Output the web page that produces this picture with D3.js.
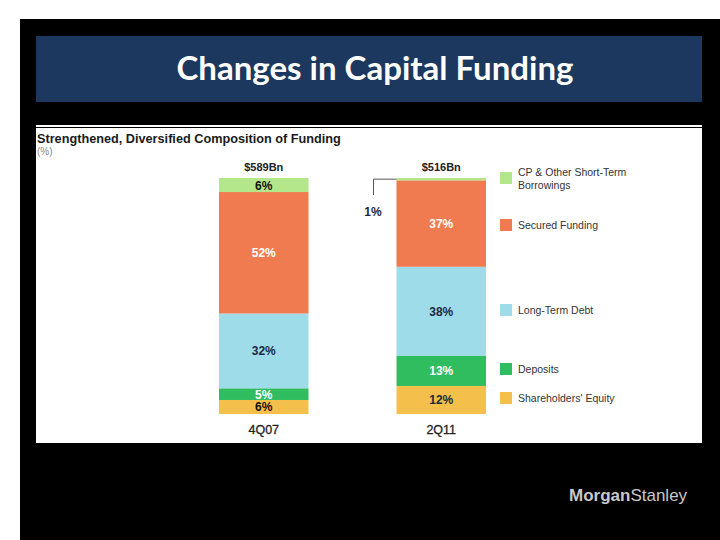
<!DOCTYPE html>
<html><head><meta charset="utf-8">
<script src="https://cdn.jsdelivr.net/npm/d3@7"></script>
<style>html,body{margin:0;padding:0;background:#fff;}svg{display:block;}</style>
</head><body>
<script>
const categories = ["4Q07", "2Q11"];
const totals = ["$589Bn", "$516Bn"];
const seriesNames = ["CP & Other Short-Term Borrowings", "Secured Funding", "Long-Term Debt", "Deposits", "Shareholders' Equity"];
const cpShortTerm = [6, 1];
const securedFunding = [52, 37];
const longTermDebt = [32, 38];
const deposits = [5, 13];
const shareholdersEquity = [6, 12];
const colors = ["#b4e68c", "#f07b51", "#9fdcea", "#2fbd60", "#f4c04b"];
const labelColors = [["#111", "#fff", "#1b2a3d", "#fff", "#111"], ["#111", "#fff", "#1b2a3d", "#fff", "#1b2a3d"]];

const W = 720, H = 540;
const svg = d3.select("body").append("svg").attr("width", W).attr("height", H);
svg.append("rect").attr("x", 0).attr("y", 0).attr("width", W).attr("height", H).attr("fill", "#fff");
svg.append("rect").attr("x", 20).attr("y", 19).attr("width", 700).attr("height", 521).attr("fill", "#000");
svg.append("rect").attr("x", 36).attr("y", 36).attr("width", 666).attr("height", 66).attr("fill", "#1c385e");
svg.append("text").attr("x", 375).attr("y", 80).attr("text-anchor", "middle")
  .attr("font-family", "Lato, 'Open Sans', sans-serif").attr("font-weight", "bold").attr("font-size", 33)
  .attr("fill", "#fff").text("Changes in Capital Funding");

// panel
svg.append("rect").attr("x", 36).attr("y", 125).attr("width", 666).attr("height", 318).attr("fill", "#fff");
svg.append("line").attr("x1", 36).attr("x2", 702).attr("y1", 127.5).attr("y2", 127.5).attr("stroke", "#000").attr("stroke-width", 1);

svg.append("text").attr("x", 37).attr("y", 143).attr("font-family", "Arial, 'Liberation Sans', sans-serif")
  .attr("font-weight", "bold").attr("font-size", 12.7).attr("fill", "#1a1a1a").text("Strengthened, Diversified Composition of Funding");
svg.append("text").attr("x", 37).attr("y", 155).attr("font-family", "Arial, 'Liberation Sans', sans-serif")
  .attr("font-size", 10).attr("fill", "#888").text("(%)");

const data = categories.map((c, i) => ({
  cat: c, total: totals[i],
  s0: cpShortTerm[i], s1: securedFunding[i], s2: longTermDebt[i], s3: deposits[i], s4: shareholdersEquity[i]
}));
const keys = ["s0", "s1", "s2", "s3", "s4"];
const stack = d3.stack().keys(keys.slice().reverse());
const series = stack(data);

const x = d3.scaleBand().domain(categories).range([219, 486]).paddingInner(0.99).paddingOuter(0);
const bw = 89.5;
const xPos = c => x(c) === 219 ? 219 : 486 - bw;
const maxTotal = d3.max(data, d => keys.reduce((a, k) => a + d[k], 0));
const y = d3.scaleLinear().domain([0, maxTotal]).range([414, 178]);

const g = svg.append("g");
series.forEach(s => {
  const ki = keys.indexOf(s.key);
  g.selectAll(null).data(s).enter().append("rect")
    .attr("x", d => xPos(d.data.cat)).attr("width", bw)
    .attr("y", d => y(d[1])).attr("height", d => y(d[0]) - y(d[1]))
    .attr("fill", colors[ki]);
  g.selectAll(null).data(s).enter().filter(d => (d[1] - d[0]) > 2).append("text")
    .attr("x", d => xPos(d.data.cat) + bw / 2)
    .attr("y", d => (y(d[0]) + y(d[1])) / 2 + 4.5)
    .attr("text-anchor", "middle")
    .attr("font-family", "Arial, 'Liberation Sans', sans-serif").attr("font-weight", "bold").attr("font-size", 12)
    .attr("fill", d => labelColors[categories.indexOf(d.data.cat)][ki])
    .text(d => (d[1] - d[0]) + "%");
});

// small segment callout (2Q11 CP)
const cpSeries = series.find(s => s.key === "s0");
const small = cpSeries[1];
const cy = (y(small[0]) + y(small[1])) / 2;
svg.append("path").attr("d", `M${xPos("2Q11")},${cy} H373.5 V195`).attr("fill", "none").attr("stroke", "#555").attr("stroke-width", 1);
svg.append("text").attr("x", 373).attr("y", 216).attr("text-anchor", "middle")
  .attr("font-family", "Arial, 'Liberation Sans', sans-serif").attr("font-weight", "bold").attr("font-size", 12)
  .attr("fill", "#1b2a3d").text((small[1] - small[0]) + "%");

// totals and category labels
data.forEach(d => {
  const top = y(keys.reduce((a, k) => a + d[k], 0));
  svg.append("text").attr("x", xPos(d.cat) + bw / 2).attr("y", top - 7.5).attr("text-anchor", "middle")
    .attr("font-family", "Arial, 'Liberation Sans', sans-serif").attr("font-weight", "bold").attr("font-size", 11)
    .attr("fill", "#222").text(d.total);
  svg.append("text").attr("x", xPos(d.cat) + bw / 2).attr("y", 434).attr("text-anchor", "middle")
    .attr("font-family", "Arial, 'Liberation Sans', sans-serif").attr("font-size", 12.5)
    .attr("stroke", "#222").attr("stroke-width", 0.3)
    .attr("fill", "#222").text(d.cat);
});

// legend aligned with 2Q11 segments
const legendY = [178, 225, 310, 369, 398];
seriesNames.forEach((name, i) => {
  const ly = legendY[i];
  svg.append("rect").attr("x", 500).attr("y", ly - 6).attr("width", 12).attr("height", 12).attr("fill", colors[i]);
  const t = svg.append("text").attr("x", 518).attr("y", ly - 2)
    .attr("font-family", "Arial, 'Liberation Sans', sans-serif").attr("font-size", 10.5).attr("fill", "#333");
  if (i === 0) {
    t.append("tspan").attr("x", 518).attr("dy", 0).text("CP & Other Short-Term");
    t.append("tspan").attr("x", 518).attr("dy", 12.5).text("Borrowings");
  } else {
    t.attr("y", ly + 4).text(name);
  }
});

// logo
const logo = svg.append("text").attr("x", 569).attr("y", 501).attr("font-family", "Arial, 'Liberation Sans', sans-serif")
  .attr("font-size", 17).attr("fill", "#c8c8c8");
logo.append("tspan").attr("font-weight", "bold").text("Morgan");
logo.append("tspan").text("Stanley");
</script>
</body></html>
